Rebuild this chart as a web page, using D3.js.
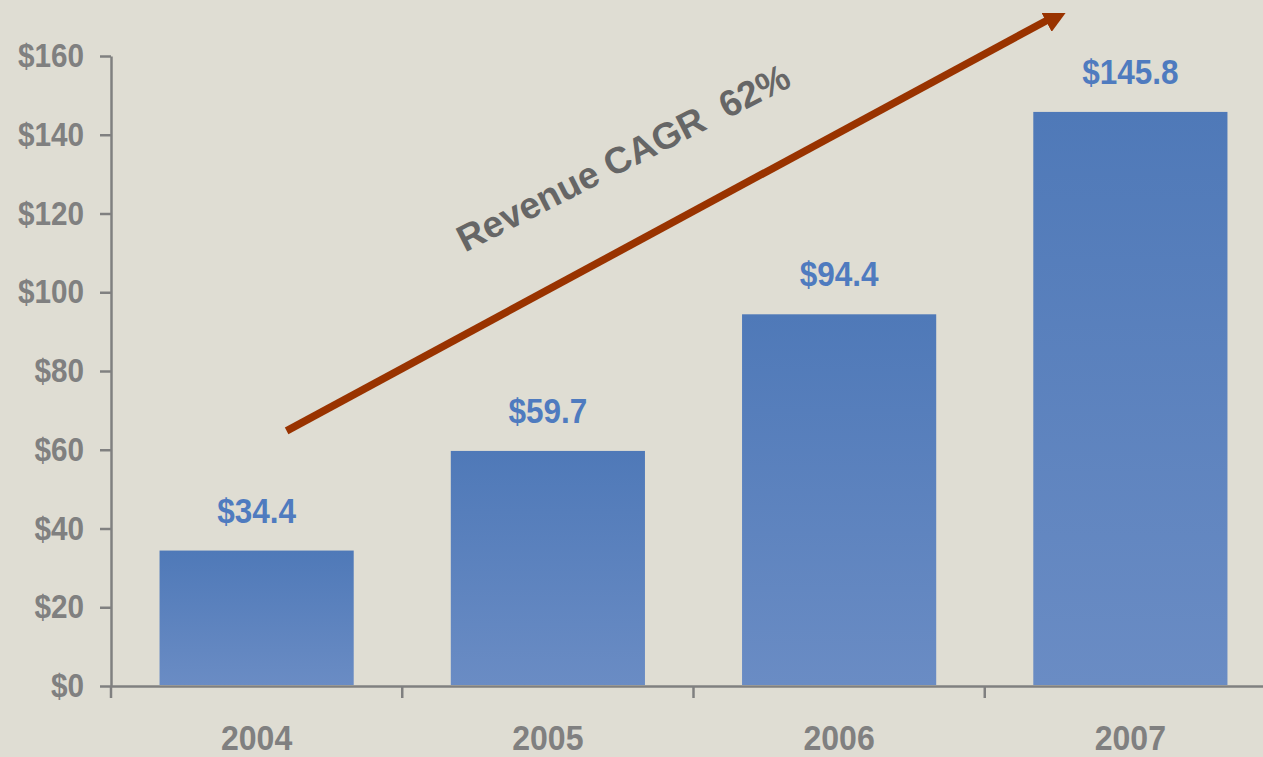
<!DOCTYPE html>
<html>
<head>
<meta charset="utf-8">
<script src="https://cdn.jsdelivr.net/npm/d3@7"></script>
<style>
  html, body { margin: 0; padding: 0; background: #dfddd3; overflow: hidden; }
  svg { display: block; }
  text { font-family: "Liberation Sans", Arial, sans-serif; font-weight: bold; }
</style>
</head>
<body>
<div id="chart"></div>
<script>
// revenue by year, $M
const years = ["2004", "2005", "2006", "2007"];
const revenue = [34.4, 59.7, 94.4, 145.8];
const yTicks = [0, 20, 40, 60, 80, 100, 120, 140, 160];
const cagrLabel = "Revenue CAGR  62%";

const width = 1263, height = 757;
const margin = { top: 56, left: 111, bottom: 71 };
const step = 291.25;

const svg = d3.select("#chart").append("svg")
    .attr("width", width)
    .attr("height", height);

const defs = svg.append("defs");

// bar gradient, darker at the top
const grad = defs.append("linearGradient")
    .attr("id", "barGrad")
    .attr("x1", 0).attr("y1", 0).attr("x2", 0).attr("y2", 1);
grad.append("stop").attr("offset", "0%").attr("stop-color", "#4f79b8");
grad.append("stop").attr("offset", "100%").attr("stop-color", "#6a8cc4");

const x = d3.scaleBand()
    .domain(years)
    .range([margin.left, margin.left + step * years.length])
    .paddingInner(1 / 3)
    .paddingOuter(1 / 6);

const y = d3.scaleLinear()
    .domain([0, 160])
    .range([height - margin.bottom, margin.top]);

// y axis
const yAxis = svg.append("g")
    .attr("transform", `translate(${margin.left},0)`)
    .call(d3.axisLeft(y).tickValues(yTicks).tickFormat(d => "$" + d)
        .tickSizeInner(11).tickSizeOuter(0).tickPadding(19));
yAxis.select(".domain").attr("stroke", "#808080").attr("stroke-width", 2.5);
yAxis.selectAll(".tick line").attr("stroke", "#808080").attr("stroke-width", 2.5);
yAxis.selectAll(".tick text")
    .attr("fill", "#808080")
    .style("font-size", "33px")
    .attr("transform", "scale(0.9,1)");

// x axis
const xAxis = svg.append("g")
    .attr("transform", `translate(0,${y(0)})`)
    .call(d3.axisBottom(x).tickSize(0).tickPadding(38).tickSizeOuter(0));
xAxis.select(".domain").attr("stroke", "#808080").attr("stroke-width", 2.5);
xAxis.selectAll(".tick text")
    .attr("fill", "#808080")
    .style("font-size", "36px")
    .attr("transform", "scale(0.89,1)")
    .attr("dy", "0.71em");

// category separators at band edges
const gap = (x.step() - x.bandwidth()) / 2;
const edges = years.map(d => x(d) - gap).concat([x(years[years.length - 1]) + x.bandwidth() + gap]);
svg.append("g").selectAll("line")
    .data(edges)
    .join("line")
    .attr("x1", d => d).attr("x2", d => d)
    .attr("y1", y(0)).attr("y2", y(0) + 12)
    .attr("stroke", "#808080").attr("stroke-width", 2.5);

// bars
svg.append("g").selectAll("rect")
    .data(revenue)
    .join("rect")
    .attr("x", (d, i) => x(years[i]))
    .attr("width", x.bandwidth())
    .attr("y", d => y(d))
    .attr("height", d => y(0) - y(d) - 1)
    .attr("fill", "url(#barGrad)");

// value labels
svg.append("g").selectAll("text")
    .data(revenue)
    .join("text")
    .attr("text-anchor", "middle")
    .attr("fill", "#4f7bbf")
    .style("font-size", "35px")
    .attr("transform", (d, i) => `translate(${x(years[i]) + x.bandwidth() / 2},${y(d) - 28}) scale(0.9,1)`)
    .text(d => "$" + d.toFixed(1));

// CAGR arrow (head gets cut at the top like the original slide)
const arrowStart = [x(years[0]) + x.bandwidth() / 2 + 30, y(64.8)];
const arrowEnd = [x(years[3]) + x.bandwidth() / 2 - 62, y(172.0)];

defs.append("clipPath").attr("id", "arrowClip")
    .append("rect").attr("x", 0).attr("y", 13).attr("width", width).attr("height", height);

defs.append("marker")
    .attr("id", "head")
    .attr("viewBox", "0 0 10 10")
    .attr("refX", 1).attr("refY", 5)
    .attr("markerWidth", 3.5).attr("markerHeight", 3.3)
    .attr("markerUnits", "strokeWidth")
    .attr("orient", "auto")
    .attr("preserveAspectRatio", "none")
    .append("path")
    .attr("d", "M0,0 L10,5 L0,10 Z")
    .attr("fill", "#993300");

const dx = arrowEnd[0] - arrowStart[0], dy = arrowEnd[1] - arrowStart[1];
const len = Math.hypot(dx, dy);
svg.append("path")
    .attr("clip-path", "url(#arrowClip)")
    .attr("d", d3.line()([arrowStart, [arrowEnd[0] - dx / len * 23, arrowEnd[1] - dy / len * 23]]))
    .attr("stroke", "#993300")
    .attr("stroke-width", 7.5)
    .attr("fill", "none")
    .attr("marker-end", "url(#head)");

svg.append("text")
    .attr("text-anchor", "middle")
    .attr("fill", "#666666")
    .style("font-size", "37px")
    .style("white-space", "pre")
    .attr("xml:space", "preserve")
    .attr("transform", "translate(629,169) rotate(-27)")
    .text(cagrLabel);
</script>
</body>
</html>
